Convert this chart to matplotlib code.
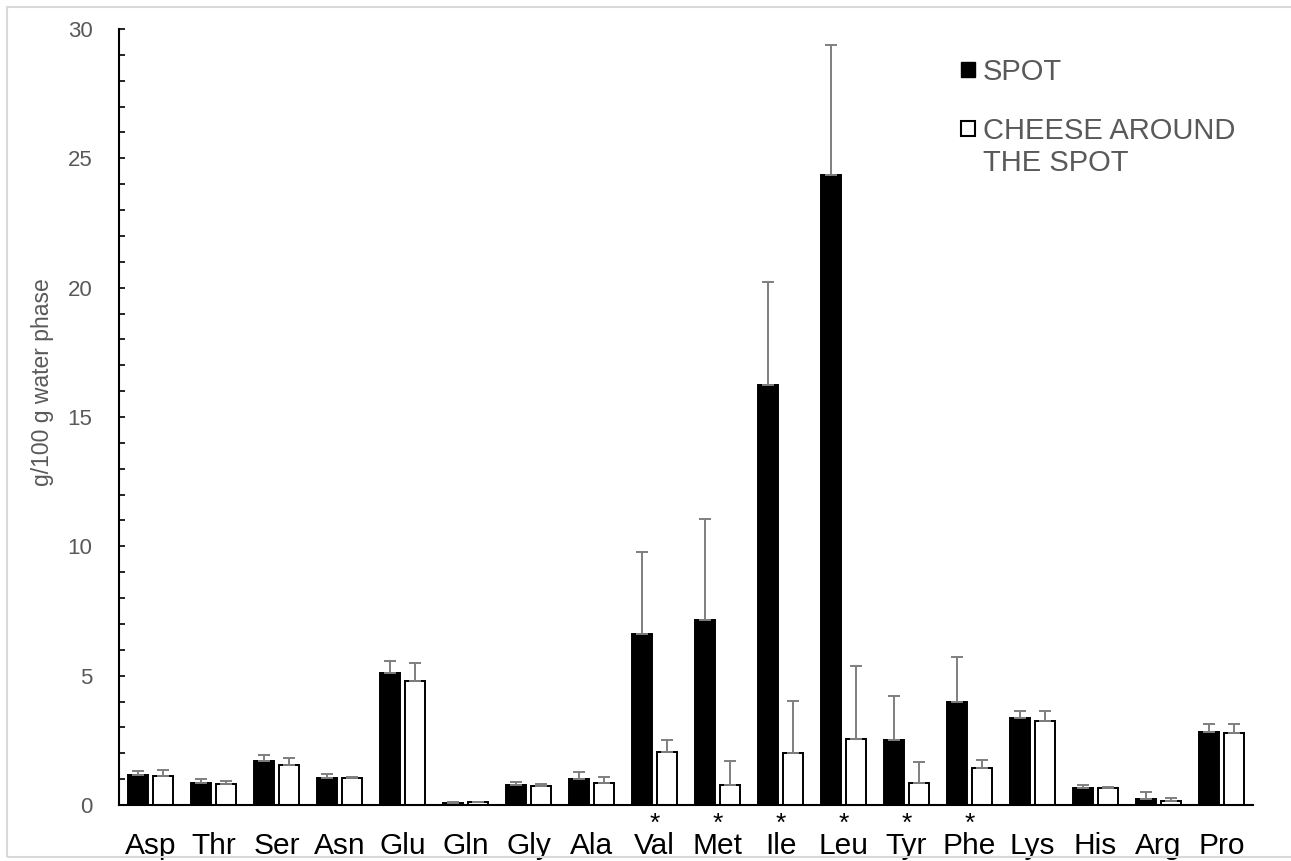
import numpy as np
import matplotlib.pyplot as plt
from matplotlib.patches import Rectangle
from matplotlib.ticker import MultipleLocator
import matplotlib.transforms as mtransforms

plt.rcParams['font.family'] = ['Liberation Sans', 'DejaVu Sans']

# free amino acids, g/100 g water phase (mean and SD)
amino = ['Asp', 'Thr', 'Ser', 'Asn', 'Glu', 'Gln', 'Gly', 'Ala', 'Val',
         'Met', 'Ile', 'Leu', 'Tyr', 'Phe', 'Lys', 'His', 'Arg', 'Pro']
spot = [1.16, 0.84, 1.71, 1.06, 5.09, 0.07, 0.77, 1.00, 6.60,
        7.15, 16.24, 24.35, 2.50, 3.97, 3.35, 0.64, 0.23, 2.81]
spot_sd = [0.16, 0.15, 0.22, 0.14, 0.48, 0.06, 0.12, 0.26, 3.17,
           3.91, 3.99, 5.03, 1.71, 1.75, 0.30, 0.12, 0.26, 0.32]
around = [1.12, 0.81, 1.55, 1.06, 4.81, 0.10, 0.73, 0.85, 2.06,
          0.77, 2.00, 2.54, 0.84, 1.42, 3.26, 0.67, 0.17, 2.77]
around_sd = [0.23, 0.13, 0.25, 0.03, 0.68, 0.03, 0.09, 0.23, 0.46,
             0.93, 2.02, 2.83, 0.83, 0.32, 0.39, 0.03, 0.09, 0.37]
signif = ['Val', 'Met', 'Ile', 'Leu', 'Tyr', 'Phe']

grey = '#595959'
W, H = 1291, 861
x = np.arange(len(amino))
w = 0.32

fig = plt.figure(figsize=(W / 100, H / 100), dpi=100)
ax = fig.add_axes([119 / W, 56 / H, 1134 / W, 776 / H])

ax.bar(x - 0.2, spot, w, color='black', edgecolor='black', linewidth=1.4, zorder=2)
ax.bar(x + 0.2, around, w, color='white', edgecolor='black', linewidth=1.4, zorder=2)

# upper half of the SD only
zeros = np.zeros(len(amino))
ax.errorbar(x - 0.2, spot, yerr=[zeros, spot_sd], fmt='none', ecolor='#7f7f7f',
            elinewidth=1.4, capsize=4.5, capthick=1.4, zorder=3)
ax.errorbar(x + 0.2, around, yerr=[zeros, around_sd], fmt='none', ecolor='#7f7f7f',
            elinewidth=1.4, capsize=4.5, capthick=1.4, zorder=3)

ax.set_xlim(-0.5, len(amino) - 0.5)
ax.set_ylim(0, 30)
ax.yaxis.set_major_locator(MultipleLocator(5))
ax.yaxis.set_minor_locator(MultipleLocator(1))
ax.tick_params(axis='y', which='both', direction='in', length=4.5, width=1.2,
               colors='black', labelcolor=grey, labelsize=16, pad=19)
ax.set_xticks(x)
ax.set_xticklabels(amino)
ax.tick_params(axis='x', length=0, labelsize=21.5, pad=19.5)

for side in ['top', 'right']:
    ax.spines[side].set_visible(False)
for side in ['left', 'bottom']:
    ax.spines[side].set_linewidth(1.5)

# asterisks for significant differences
trans = mtransforms.blended_transform_factory(ax.transData, ax.transAxes)
for name in signif:
    ax.text(amino.index(name), -0.009, '*', transform=trans, ha='center',
            va='top', fontsize=19, color='black')

fig.text(43 / W, 1 - 382 / H, 'g/100 g water phase', rotation=90,
         ha='center', va='center', fontsize=16.5, color=grey)

# legend: filled and open squares with labels
fig.patches.append(Rectangle((961 / W, 1 - 77 / H), 14 / W, 15 / H,
                             transform=fig.transFigure, facecolor='black',
                             edgecolor='black', linewidth=1))
fig.patches.append(Rectangle((961 / W, 1 - 136 / H), 14 / W, 15 / H,
                             transform=fig.transFigure, facecolor='white',
                             edgecolor='black', linewidth=1.5))
fig.text(983 / W, 1 - 58 / H, 'SPOT', ha='left', va='top', fontsize=21,
         color=grey)
fig.text(983 / W, 1 - 117 / H, 'CHEESE AROUND\nTHE SPOT', ha='left', va='top',
         fontsize=21, color=grey, linespacing=1.2)

# thin frame around the figure
fig.patches.append(Rectangle((7 / W, 4 / H), 1.05, 1 - 11 / H,
                             transform=fig.transFigure, fill=False,
                             edgecolor='#d9d9d9', linewidth=1.5))

fig.savefig('out.png', dpi=100)
